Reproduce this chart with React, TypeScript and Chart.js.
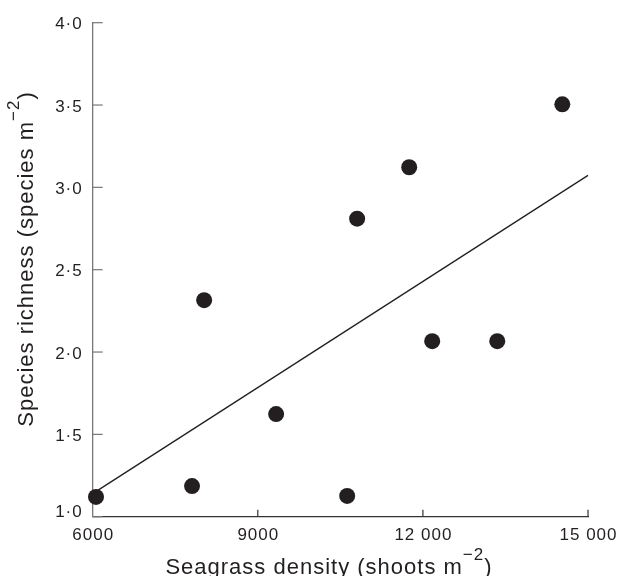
import React, { useEffect, useRef } from "react";
import { Chart, registerables } from "chart.js";

Chart.register(...registerables);

const densityValues = [6060, 7805, 8025, 9333, 10624, 10805, 11751, 12169, 13351, 14533];
const richnessValues = [1.12, 1.186, 2.315, 1.623, 1.126, 2.81, 3.122, 2.066, 2.066, 3.504];
const fitX = [6000, 15000];
const fitY = [1.14, 3.073];
const xTicks = [6000, 9000, 12000, 15000];
const yTicks = [1.0, 1.5, 2.0, 2.5, 3.0, 3.5, 4.0];

const INK = "#231f20";
const FONT = "'Liberation Sans', Arial, Helvetica, sans-serif";

const fmtX = (v: number) => (v >= 10000 ? String(v).replace(/(\d{2})(\d{3})$/, "$1 $2") : String(v));
const fmtY = (v: number) => v.toFixed(1).replace(".", "\u00b7");

const customPlugin = {
  id: "customAxes",
  afterDraw(chart: any) {
    const ctx = chart.ctx as any;
    const xs = chart.scales.x;
    const ys = chart.scales.y;
    const area = chart.chartArea;
    ctx.save();
    // inward tick marks
    ctx.lineWidth = 1.2;
    ctx.strokeStyle = "#777";
    yTicks.forEach((t) => {
      const py = ys.getPixelForValue(t);
      ctx.beginPath();
      ctx.moveTo(area.left, py);
      ctx.lineTo(area.left + 10, py);
      ctx.stroke();
    });
    ctx.strokeStyle = "#333";
    xTicks.slice(1).forEach((t) => {
      const px = xs.getPixelForValue(t);
      ctx.beginPath();
      ctx.moveTo(px, area.bottom);
      ctx.lineTo(px, area.bottom - 7);
      ctx.stroke();
    });

    // tick labels
    ctx.fillStyle = INK;
    ctx.font = `17px ${FONT}`;
    ctx.letterSpacing = "1px";
    ctx.textBaseline = "alphabetic";
    ctx.textAlign = "right";
    yTicks.forEach((t) => {
      const py = ys.getPixelForValue(t);
      const off = t === yTicks[0] ? 0 : 6.5;
      ctx.fillText(fmtY(t), area.left - 10, py + off);
    });
    ctx.textAlign = "center";
    xTicks.forEach((t) => {
      const px = xs.getPixelForValue(t);
      ctx.fillText(fmtX(t), px + 0.5, area.bottom + 23.5);
    });

    // titles with superscripts
    const size = 22;
    const supSize = 17;
    const drawTitle = (main: string, sup: string, tail: string, raise: number) => {
      ctx.letterSpacing = "1px";
      ctx.font = `${size}px ${FONT}`;
      const w1 = ctx.measureText(main).width;
      ctx.font = `${supSize}px ${FONT}`;
      const w2 = ctx.measureText(sup).width;
      ctx.font = `${size}px ${FONT}`;
      const w3 = ctx.measureText(tail).width;
      const total = w1 + w2 + w3;
      let x = -total / 2;
      ctx.textAlign = "left";
      ctx.textBaseline = "alphabetic";
      ctx.fillText(main, x, 0);
      x += w1;
      ctx.font = `${supSize}px ${FONT}`;
      ctx.fillText(sup, x, -raise);
      x += w2;
      ctx.font = `${size}px ${FONT}`;
      ctx.fillText(tail, x, 0);
    };

    ctx.save();
    ctx.translate(329, 574);
    drawTitle("Seagrass density (shoots m", "\u22122", ")", 14);
    ctx.restore();

    ctx.save();
    ctx.translate(33, 259);
    ctx.rotate(-Math.PI / 2);
    drawTitle("Species richness (species m", "\u22122", ")", 14);
    ctx.restore();

    ctx.restore();
  },
};

export default function App() {
  const ref = useRef<HTMLCanvasElement>(null);
  useEffect(() => {
    document.body.style.margin = "0";
    const points = densityValues.map((x, i) => ({ x, y: richnessValues[i] }));
    const fit = fitX.map((x, i) => ({ x, y: fitY[i] }));
    const chart = new Chart(ref.current!, {
      type: "scatter",
      data: {
        datasets: [
          {
            data: fit,
            showLine: true,
            borderColor: INK,
            borderWidth: 1.3,
            pointRadius: 0,
            clip: false,
          } as any,
          {
            data: points,
            backgroundColor: INK,
            borderColor: INK,
            pointRadius: 8,
            pointBorderWidth: 0,
            clip: false,
          } as any,
        ],
      },
      options: {
        animation: false,
        responsive: false,
        maintainAspectRatio: false,
        events: [],
        layout: { padding: { top: 22.7, right: 29, left: 0, bottom: 0 } },
        plugins: { legend: { display: false }, tooltip: { enabled: false } },
        scales: {
          x: {
            type: "linear",
            min: 6000,
            max: 15000,
            afterFit: (s: any) => {
              s.height = 59.3;
            },
            ticks: { display: false },
            grid: { display: false, drawTicks: false },
            border: { display: true, color: "#333", width: 1.3 },
          },
          y: {
            type: "linear",
            min: 1,
            max: 4,
            afterFit: (s: any) => {
              s.width = 92.7;
            },
            ticks: { display: false },
            grid: { display: false, drawTicks: false },
            border: { display: true, color: "#777", width: 1.3 },
          },
        },
      },
      plugins: [customPlugin],
    });
    return () => chart.destroy();
  }, []);
  return <canvas ref={ref} width={617} height={576} style={{ display: "block" }} />;
}
